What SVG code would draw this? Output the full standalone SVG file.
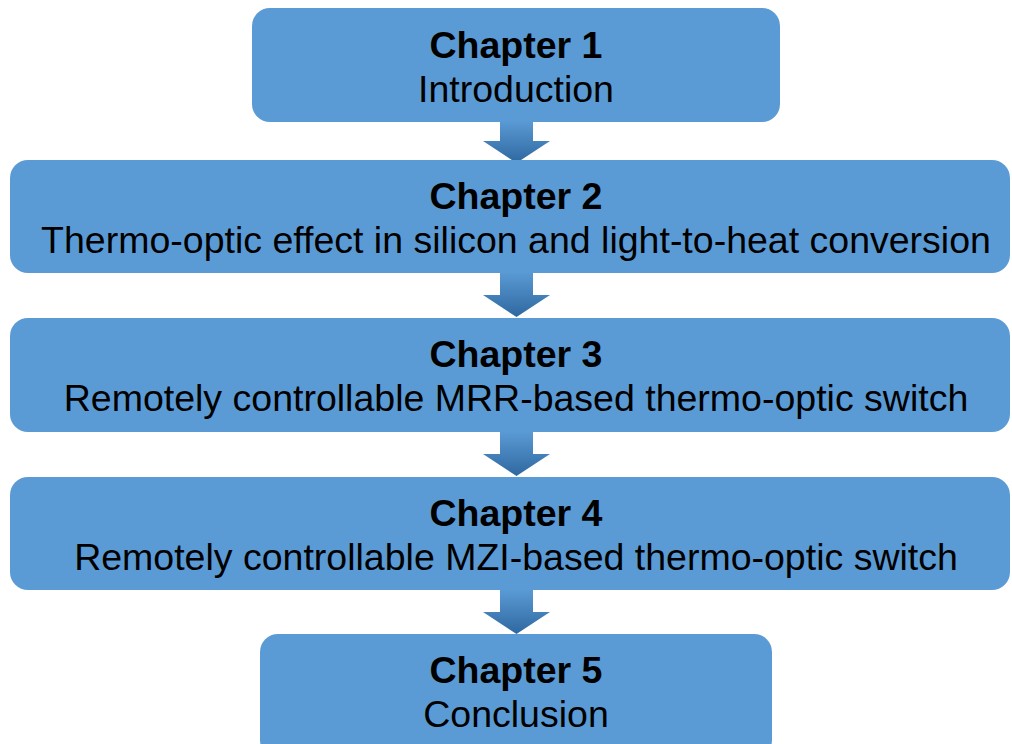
<svg xmlns="http://www.w3.org/2000/svg" width="1012" height="744" viewBox="0 0 1012 744">
<style>
.box{fill:#5b9bd5;}
.t{font-family:"Liberation Sans",Arial,sans-serif;font-size:37.5px;fill:#000;text-anchor:middle;}
.b{font-weight:bold;}
.arr{fill:url(#g);}
</style>
<defs>
<linearGradient id="g" x1="0" y1="0" x2="0" y2="1">
<stop offset="0" stop-color="#5b9bd5"/>
<stop offset="1" stop-color="#2f68a0"/>
</linearGradient>
</defs>
<rect width="1012" height="744" fill="#fff"/>
<g id="connectors">
<path class="arr" d="M500,120 H533 V141 H550 L516.5,163 L483,141 H500 Z"/>
<path class="arr" d="M500,271 H533 V295 H550 L516.5,317 L483,295 H500 Z"/>
<path class="arr" d="M500,431 H533 V454 H550 L516.5,476 L483,454 H500 Z"/>
<path class="arr" d="M500,589 H533 V612 H550 L516.5,634 L483,612 H500 Z"/>
</g>
<g id="node1">
<rect class="box" x="252" y="8" width="528" height="114" rx="18"/>
<text class="t b" x="516" y="58">Chapter 1</text>
<text class="t" x="516" y="102">Introduction</text>
</g>
<g id="node2">
<rect class="box" x="10" y="160" width="1000" height="113" rx="18"/>
<text class="t b" x="516" y="209">Chapter 2</text>
<text class="t" x="516" y="253">Thermo-optic effect in silicon and light-to-heat conversion</text>
</g>
<g id="node3">
<rect class="box" x="10" y="318" width="1000" height="114" rx="18"/>
<text class="t b" x="516" y="367">Chapter 3</text>
<text class="t" x="516" y="411">Remotely controllable MRR-based thermo-optic switch</text>
</g>
<g id="node4">
<rect class="box" x="10" y="477" width="1000" height="113" rx="18"/>
<text class="t b" x="516" y="526">Chapter 4</text>
<text class="t" x="516" y="570">Remotely controllable MZI-based thermo-optic switch</text>
</g>
<g id="node5">
<rect class="box" x="260" y="634" width="512" height="124" rx="18"/>
<text class="t b" x="516" y="683">Chapter 5</text>
<text class="t" x="516" y="727">Conclusion</text>
</g>
</svg>
